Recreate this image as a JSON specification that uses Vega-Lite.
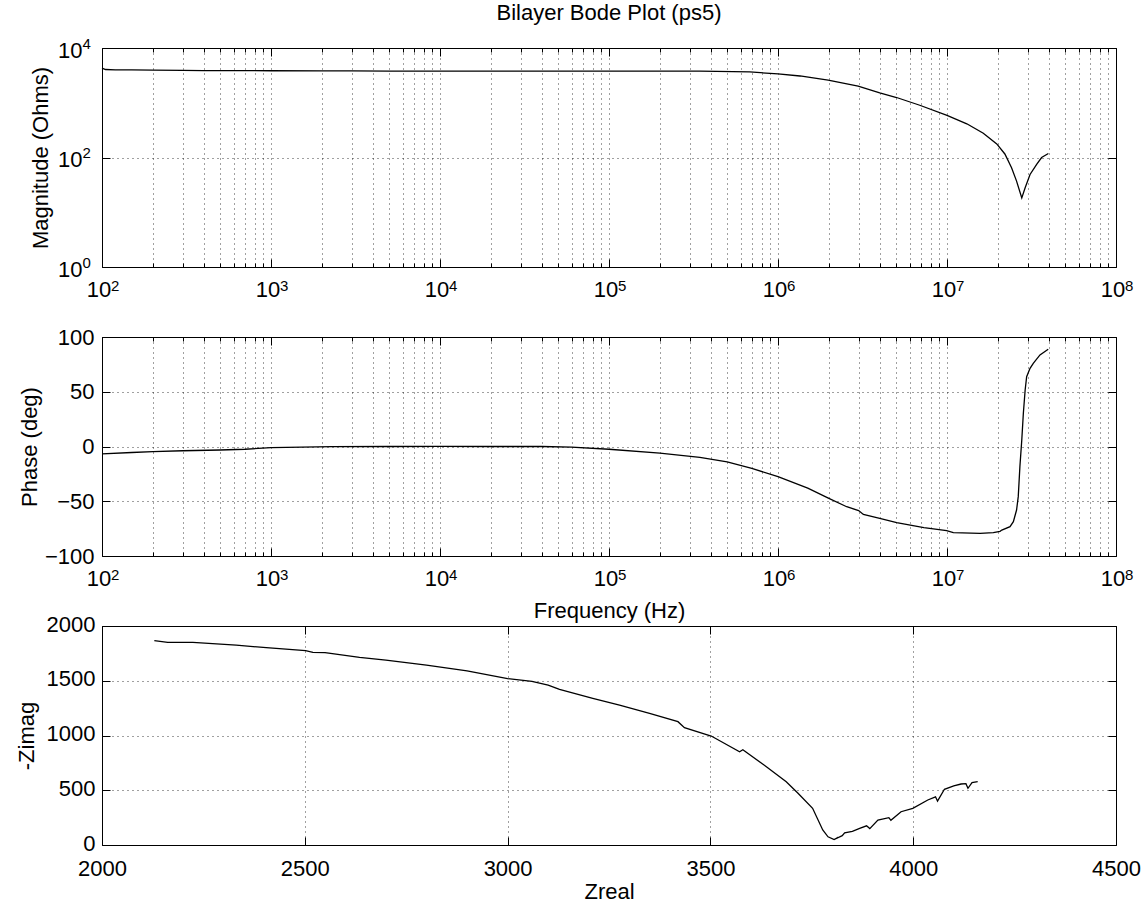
{
  "$schema": "https://vega.github.io/schema/vega-lite/v6.json",
  "background": "white",
  "padding": {"left": 14, "top": 1, "right": 0, "bottom": 0},
  "bounds": "flush",
  "spacing": 70,
  "config": {
    "font": "Liberation Sans",
    "view": {"stroke": "black", "strokeWidth": 1},
    "axis": {"labelFont": "Liberation Sans", "labelFontSize": 22, "labelColor": "black", "titleFont": "Liberation Sans", "titleFontSize": 22, "titleFontWeight": "normal", "titleColor": "black", "domain": false, "tickColor": "black", "tickWidth": 1, "gridColor": "#000", "gridDash": [1, 4], "gridOpacity": 0.75, "labelFlush": false, "labelOverlap": false, "labelBound": false},
    "title": {"font": "Liberation Sans", "fontSize": 22, "fontWeight": "normal", "color": "black"}
  },
  "datasets": {
    "mag": [
      {"f": 100, "m": 4300}, {"f": 105, "m": 4050}, {"f": 120, "m": 3990}, {"f": 150, "m": 3970}, {"f": 200, "m": 3960},
      {"f": 300, "m": 3900}, {"f": 400, "m": 3870}, {"f": 700, "m": 3850}, {"f": 1000, "m": 3840}, {"f": 2000, "m": 3830},
      {"f": 3000, "m": 3820}, {"f": 5000, "m": 3790}, {"f": 10000, "m": 3780}, {"f": 30000, "m": 3780}, {"f": 100000, "m": 3790},
      {"f": 345000, "m": 3780}, {"f": 680000, "m": 3656}, {"f": 1000000, "m": 3357}, {"f": 1350000, "m": 3083}, {"f": 1980000, "m": 2600},
      {"f": 2980000, "m": 2015}, {"f": 4000000, "m": 1517}, {"f": 5030000, "m": 1247}, {"f": 6900000, "m": 900}, {"f": 10000000, "m": 589},
      {"f": 13100000, "m": 413}, {"f": 16400000, "m": 277}, {"f": 19700000, "m": 177}, {"f": 22000000, "m": 116}, {"f": 24100000, "m": 65},
      {"f": 25800000, "m": 37}, {"f": 27700000, "m": 18.3}, {"f": 29000000, "m": 28}, {"f": 31000000, "m": 49}, {"f": 34000000, "m": 75.5},
      {"f": 36300000, "m": 100}, {"f": 39800000, "m": 118.6}
    ],
    "phase": [
      {"f": 100, "p": -6.8}, {"f": 150, "p": -5.5}, {"f": 200, "p": -4.7}, {"f": 300, "p": -3.9}, {"f": 500, "p": -3.2},
      {"f": 700, "p": -2.5}, {"f": 1000, "p": -1.1}, {"f": 2300, "p": -0.2}, {"f": 5000, "p": 0}, {"f": 10000, "p": 0.2},
      {"f": 20000, "p": 0}, {"f": 40000, "p": 0}, {"f": 60000, "p": -0.5}, {"f": 100000, "p": -2.5}, {"f": 200000, "p": -6},
      {"f": 345000, "p": -9.9}, {"f": 500000, "p": -14}, {"f": 700000, "p": -20}, {"f": 1000000, "p": -27.5}, {"f": 1500000, "p": -38},
      {"f": 2000000, "p": -47.3}, {"f": 2550000, "p": -55}, {"f": 3000000, "p": -58.5}, {"f": 3200000, "p": -62}, {"f": 4000000, "p": -65.6},
      {"f": 5040000, "p": -69.6}, {"f": 7300000, "p": -74.1}, {"f": 9950000, "p": -76.9}, {"f": 10900000, "p": -78.7}, {"f": 15700000, "p": -79.3},
      {"f": 18800000, "p": -78.7}, {"f": 20600000, "p": -77.5}, {"f": 21100000, "p": -76.3}, {"f": 23600000, "p": -73.2}, {"f": 24700000, "p": -68.6},
      {"f": 25800000, "p": -58}, {"f": 26400000, "p": -45.8}, {"f": 27000000, "p": -18.4}, {"f": 27700000, "p": 5.9}, {"f": 28300000, "p": 30.3},
      {"f": 29000000, "p": 51.6}, {"f": 29600000, "p": 63.8}, {"f": 31000000, "p": 71.4}, {"f": 32400000, "p": 76}, {"f": 35500000, "p": 83.6},
      {"f": 39700000, "p": 88.8}
    ],
    "nyq": [
      {"i": 1, "zr": 2129, "zi": 1866}, {"i": 2, "zr": 2162, "zi": 1851}, {"i": 3, "zr": 2224, "zi": 1851}, {"i": 4, "zr": 2331, "zi": 1826},
      {"i": 5, "zr": 2405, "zi": 1802}, {"i": 6, "zr": 2502, "zi": 1775}, {"i": 7, "zr": 2520, "zi": 1760}, {"i": 8, "zr": 2550, "zi": 1757},
      {"i": 9, "zr": 2635, "zi": 1714}, {"i": 10, "zr": 2700, "zi": 1689}, {"i": 11, "zr": 2800, "zi": 1643}, {"i": 12, "zr": 2900, "zi": 1591},
      {"i": 13, "zr": 3000, "zi": 1520}, {"i": 14, "zr": 3060, "zi": 1495}, {"i": 15, "zr": 3100, "zi": 1460}, {"i": 16, "zr": 3128, "zi": 1422},
      {"i": 17, "zr": 3210, "zi": 1340}, {"i": 18, "zr": 3276, "zi": 1278}, {"i": 19, "zr": 3350, "zi": 1203}, {"i": 20, "zr": 3420, "zi": 1126},
      {"i": 21, "zr": 3436, "zi": 1071}, {"i": 22, "zr": 3502, "zi": 995}, {"i": 23, "zr": 3572, "zi": 852}, {"i": 24, "zr": 3580, "zi": 870},
      {"i": 25, "zr": 3638, "zi": 715}, {"i": 26, "zr": 3687, "zi": 578}, {"i": 27, "zr": 3716, "zi": 472}, {"i": 28, "zr": 3752, "zi": 335},
      {"i": 29, "zr": 3777, "zi": 137}, {"i": 30, "zr": 3790, "zi": 75}, {"i": 31, "zr": 3805, "zi": 50}, {"i": 32, "zr": 3815, "zi": 70},
      {"i": 33, "zr": 3808, "zi": 55}, {"i": 34, "zr": 3825, "zi": 85}, {"i": 35, "zr": 3831, "zi": 112}, {"i": 36, "zr": 3850, "zi": 125},
      {"i": 37, "zr": 3868, "zi": 152}, {"i": 38, "zr": 3885, "zi": 175}, {"i": 39, "zr": 3893, "zi": 150}, {"i": 40, "zr": 3913, "zi": 228},
      {"i": 41, "zr": 3940, "zi": 250}, {"i": 42, "zr": 3945, "zi": 225}, {"i": 43, "zr": 3970, "zi": 304}, {"i": 44, "zr": 3999, "zi": 335},
      {"i": 45, "zr": 4036, "zi": 411}, {"i": 46, "zr": 4055, "zi": 440}, {"i": 47, "zr": 4060, "zi": 400}, {"i": 48, "zr": 4077, "zi": 509},
      {"i": 49, "zr": 4100, "zi": 540}, {"i": 50, "zr": 4118, "zi": 557}, {"i": 51, "zr": 4130, "zi": 560}, {"i": 52, "zr": 4135, "zi": 518},
      {"i": 53, "zr": 4145, "zi": 570}, {"i": 54, "zr": 4159, "zi": 578}
    ]
  },
  "vconcat": [
    {
      "width": 1014, "height": 219,
      "title": {"text": "Bilayer Bode Plot (ps5)", "offset": 11},
      "data": {"name": "mag"},
      "resolve": {"axis": {"x": "independent", "y": "independent"}},
      "encoding": {
        "x": {"field": "f", "type": "quantitative", "scale": {"type": "log", "domain": [100, 100000000], "nice": false}},
        "y": {"field": "m", "type": "quantitative", "scale": {"type": "log", "domain": [1, 10000], "nice": false}}
      },
      "layer": [
        {
          "mark": {"type": "line", "color": "black", "strokeWidth": 1.3},
          "encoding": {
            "x": {"field": "f", "type": "quantitative", "axis": {"orient": "bottom", "values": [100, 1000, 10000, 100000, 1000000, 10000000, 100000000], "ticks": false, "tickSize": 0, "labelPadding": 12, "labelOffset": -3.5, "grid": false, "title": null, "labelExpr": "'10'"}},
            "y": {"field": "m", "type": "quantitative", "axis": {"orient": "left", "values": [1, 100, 10000], "ticks": false, "tickSize": 0, "labelPadding": 20, "labelOffset": 2, "grid": true, "title": "Magnitude (Ohms)", "titlePadding": 5, "labelExpr": "'10'"}}
          }
        },
        {
          "mark": {"type": "line", "strokeOpacity": 0},
          "encoding": {
            "x": {"field": "f", "type": "quantitative", "axis": {"orient": "bottom", "values": [100, 1000, 10000, 100000, 1000000, 10000000, 100000000], "ticks": false, "tickSize": 0, "labelPadding": 11, "labelOffset": 12.7, "labelFontSize": 15, "grid": false, "title": null, "labelExpr": "'' + round(log(datum.value)/LN10)"}},
            "y": {"field": "m", "type": "quantitative", "axis": {"orient": "left", "values": [1, 100, 10000], "ticks": false, "tickSize": 0, "labelPadding": 20, "labelAlign": "left", "labelOffset": -5, "labelFontSize": 15, "grid": false, "title": null, "labelExpr": "'' + round(log(datum.value)/LN10)"}}
          }
        },
        {
          "mark": {"type": "line", "strokeOpacity": 0},
          "encoding": {
            "x": {"field": "f", "type": "quantitative", "axis": {"orient": "bottom", "values": [100, 1000, 10000, 100000, 1000000, 10000000, 100000000], "tickSize": -8, "labels": false, "grid": true, "title": null}},
            "y": {"field": "m", "type": "quantitative", "axis": {"orient": "right", "values": [1, 100, 10000], "tickSize": -8, "labels": false, "grid": false, "title": null}}
          }
        },
        {
          "mark": {"type": "line", "strokeOpacity": 0},
          "encoding": {
            "x": {"field": "f", "type": "quantitative", "axis": {"orient": "bottom", "values": [200,300,400,500,600,700,800,900,2000,3000,4000,5000,6000,7000,8000,9000,20000,30000,40000,50000,60000,70000,80000,90000,200000,300000,400000,500000,600000,700000,800000,900000,2000000,3000000,4000000,5000000,6000000,7000000,8000000,9000000,20000000,30000000,40000000,50000000,60000000,70000000,80000000,90000000], "tickSize": -4, "labels": false, "grid": true, "title": null}},
            "y": {"field": "m", "type": "quantitative", "axis": {"orient": "left", "values": [1, 100, 10000], "tickSize": -8, "labels": false, "grid": false, "title": null}}
          }
        },
        {
          "mark": {"type": "line", "strokeOpacity": 0},
          "encoding": {
            "x": {"field": "f", "type": "quantitative", "axis": {"orient": "top", "values": [100, 1000, 10000, 100000, 1000000, 10000000, 100000000], "tickSize": -8, "labels": false, "grid": false, "title": null}},
            "y": {"field": "m", "type": "quantitative", "axis": null}
          }
        },
        {
          "mark": {"type": "line", "strokeOpacity": 0},
          "encoding": {
            "x": {"field": "f", "type": "quantitative", "axis": {"orient": "top", "values": [200,300,400,500,600,700,800,900,2000,3000,4000,5000,6000,7000,8000,9000,20000,30000,40000,50000,60000,70000,80000,90000,200000,300000,400000,500000,600000,700000,800000,900000,2000000,3000000,4000000,5000000,6000000,7000000,8000000,9000000,20000000,30000000,40000000,50000000,60000000,70000000,80000000,90000000], "tickSize": -4, "labels": false, "grid": false, "title": null}},
            "y": {"field": "m", "type": "quantitative", "axis": null}
          }
        }
      ]
    },
    {
      "width": 1014, "height": 219,
      "data": {"name": "phase"},
      "resolve": {"axis": {"x": "independent", "y": "independent"}},
      "encoding": {
        "x": {"field": "f", "type": "quantitative", "scale": {"type": "log", "domain": [100, 100000000], "nice": false}},
        "y": {"field": "p", "type": "quantitative", "scale": {"domain": [-100, 100], "nice": false}}
      },
      "layer": [
        {
          "mark": {"type": "line", "color": "black", "strokeWidth": 1.3},
          "encoding": {
            "x": {"field": "f", "type": "quantitative", "axis": {"orient": "bottom", "values": [100, 1000, 10000, 100000, 1000000, 10000000, 100000000], "ticks": false, "tickSize": 0, "labelPadding": 12, "labelOffset": -3.5, "grid": false, "title": "Frequency (Hz)", "titlePadding": 11, "labelExpr": "'10'"}},
            "y": {"field": "p", "type": "quantitative", "axis": {"orient": "left", "values": [-100, -50, 0, 50, 100], "ticks": false, "tickSize": 0, "labelPadding": 8, "grid": true, "title": "Phase (deg)", "titlePadding": 3}}
          }
        },
        {
          "mark": {"type": "line", "strokeOpacity": 0},
          "encoding": {
            "x": {"field": "f", "type": "quantitative", "axis": {"orient": "bottom", "values": [100, 1000, 10000, 100000, 1000000, 10000000, 100000000], "ticks": false, "tickSize": 0, "labelPadding": 11, "labelOffset": 12.7, "labelFontSize": 15, "grid": false, "title": null, "labelExpr": "'' + round(log(datum.value)/LN10)"}},
            "y": {"field": "p", "type": "quantitative", "axis": null}
          }
        },
        {
          "mark": {"type": "line", "strokeOpacity": 0},
          "encoding": {
            "x": {"field": "f", "type": "quantitative", "axis": {"orient": "bottom", "values": [100, 1000, 10000, 100000, 1000000, 10000000, 100000000], "tickSize": -8, "labels": false, "grid": true, "title": null}},
            "y": {"field": "p", "type": "quantitative", "axis": {"orient": "right", "values": [-100, -50, 0, 50, 100], "tickSize": -8, "labels": false, "grid": false, "title": null}}
          }
        },
        {
          "mark": {"type": "line", "strokeOpacity": 0},
          "encoding": {
            "x": {"field": "f", "type": "quantitative", "axis": {"orient": "bottom", "values": [200,300,400,500,600,700,800,900,2000,3000,4000,5000,6000,7000,8000,9000,20000,30000,40000,50000,60000,70000,80000,90000,200000,300000,400000,500000,600000,700000,800000,900000,2000000,3000000,4000000,5000000,6000000,7000000,8000000,9000000,20000000,30000000,40000000,50000000,60000000,70000000,80000000,90000000], "tickSize": -4, "labels": false, "grid": true, "title": null}},
            "y": {"field": "p", "type": "quantitative", "axis": {"orient": "left", "values": [-100, -50, 0, 50, 100], "tickSize": -8, "labels": false, "grid": false, "title": null}}
          }
        },
        {
          "mark": {"type": "line", "strokeOpacity": 0},
          "encoding": {
            "x": {"field": "f", "type": "quantitative", "axis": {"orient": "top", "values": [100, 1000, 10000, 100000, 1000000, 10000000, 100000000], "tickSize": -8, "labels": false, "grid": false, "title": null}},
            "y": {"field": "p", "type": "quantitative", "axis": null}
          }
        },
        {
          "mark": {"type": "line", "strokeOpacity": 0},
          "encoding": {
            "x": {"field": "f", "type": "quantitative", "axis": {"orient": "top", "values": [200,300,400,500,600,700,800,900,2000,3000,4000,5000,6000,7000,8000,9000,20000,30000,40000,50000,60000,70000,80000,90000,200000,300000,400000,500000,600000,700000,800000,900000,2000000,3000000,4000000,5000000,6000000,7000000,8000000,9000000,20000000,30000000,40000000,50000000,60000000,70000000,80000000,90000000], "tickSize": -4, "labels": false, "grid": false, "title": null}},
            "y": {"field": "p", "type": "quantitative", "axis": null}
          }
        }
      ]
    },
    {
      "width": 1014, "height": 219,
      "data": {"name": "nyq"},
      "resolve": {"axis": {"x": "independent", "y": "independent"}},
      "encoding": {
        "x": {"field": "zr", "type": "quantitative", "scale": {"domain": [2000, 4500], "nice": false}},
        "y": {"field": "zi", "type": "quantitative", "scale": {"domain": [0, 2000], "nice": false}},
        "order": {"field": "i", "type": "quantitative"}
      },
      "layer": [
        {
          "mark": {"type": "line", "color": "black", "strokeWidth": 1.3},
          "encoding": {
            "x": {"field": "zr", "type": "quantitative", "axis": {"orient": "bottom", "values": [2000, 2500, 3000, 3500, 4000, 4500], "ticks": false, "tickSize": 0, "labelPadding": 13, "grid": true, "title": "Zreal", "titlePadding": 2, "format": "d"}},
            "y": {"field": "zi", "type": "quantitative", "axis": {"orient": "left", "values": [0, 500, 1000, 1500, 2000], "ticks": false, "tickSize": 0, "labelPadding": 7, "labelOffset": -2, "grid": true, "title": "-Zimag", "titlePadding": 8, "format": "d"}}
          }
        },
        {
          "mark": {"type": "line", "strokeOpacity": 0},
          "encoding": {
            "x": {"field": "zr", "type": "quantitative", "axis": {"orient": "bottom", "values": [2000, 2500, 3000, 3500, 4000, 4500], "tickSize": -8, "labels": false, "grid": false, "title": null}},
            "y": {"field": "zi", "type": "quantitative", "axis": {"orient": "left", "values": [0, 500, 1000, 1500, 2000], "tickSize": -8, "labels": false, "grid": false, "title": null}}
          }
        },
        {
          "mark": {"type": "line", "strokeOpacity": 0},
          "encoding": {
            "x": {"field": "zr", "type": "quantitative", "axis": {"orient": "top", "values": [2000, 2500, 3000, 3500, 4000, 4500], "tickSize": -8, "labels": false, "grid": false, "title": null}},
            "y": {"field": "zi", "type": "quantitative", "axis": {"orient": "right", "values": [0, 500, 1000, 1500, 2000], "tickSize": -8, "labels": false, "grid": false, "title": null}}
          }
        }
      ]
    }
  ]
}
